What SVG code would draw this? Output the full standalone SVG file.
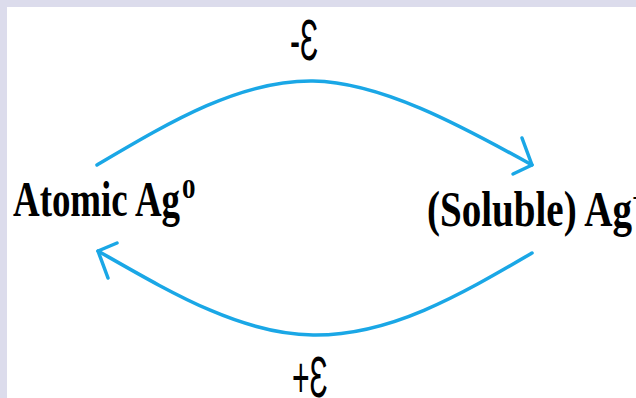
<svg xmlns="http://www.w3.org/2000/svg" width="636" height="398" viewBox="0 0 636 398">
<style>
.lbl{font-family:"Liberation Serif","Times New Roman",serif;font-weight:bold;fill:#000}
.eps{font-family:"Liberation Sans",Arial,"DejaVu Sans",sans-serif;font-size:58px;fill:#000}
.conn{fill:none;stroke:#1aa7e6;stroke-width:3.5;stroke-linecap:round;stroke-linejoin:round}
</style>
<rect x="0" y="0" width="636" height="398" fill="#dcdcec"/>
<rect x="7" y="7" width="629" height="391" fill="#ffffff"/>
<g id="connectors">
<path class="conn" d="M97,165 C170,122 240,80 313,81 C380,82 460,125 532,165"/>
<path class="conn" d="M522,138 L532,165 L513,174"/>
<path class="conn" d="M532,253 C460,295 390,336 313,335 C240,334 170,292 98,251"/>
<path class="conn" d="M117,243 L98,251 L108,278"/>
<text class="eps" transform="translate(290,60) scale(0.52,1)">-Ɛ</text>
<text class="eps" transform="translate(292,397) scale(0.52,1)">+Ɛ</text>
</g>
<g id="node-atomic">
<text class="lbl" font-size="51" x="13" y="216" textLength="167" lengthAdjust="spacingAndGlyphs">Atomic Ag</text>
<text class="lbl" font-size="27" x="182" y="198">0</text>
</g>
<g id="node-soluble">
<text class="lbl" font-size="51" x="427" y="226" textLength="205" lengthAdjust="spacingAndGlyphs">(Soluble) Ag</text>
<text class="lbl" font-size="27" x="632" y="207">+</text>
</g>
</svg>
